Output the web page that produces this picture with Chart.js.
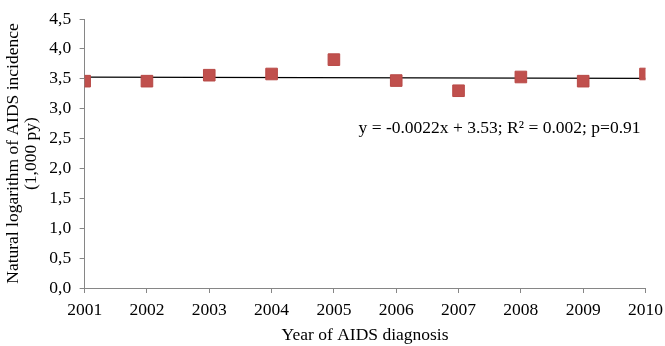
<!DOCTYPE html>
<html>
<head>
<meta charset="utf-8">
<script src="https://cdn.jsdelivr.net/npm/chart.js@4"></script>
<style>
  html, body { margin: 0; padding: 0; background: #fff; }
  #wrap { width: 665px; height: 346px; }
</style>
</head>
<body>
<div id="wrap"><canvas id="chart"></canvas></div>
<script>
"use strict";

var years = [2001, 2002, 2003, 2004, 2005, 2006, 2007, 2008, 2009, 2010];
var logIncidence = [3.46, 3.46, 3.56, 3.58, 3.82, 3.47, 3.3, 3.53, 3.46, 3.58];
var yTicks = [0, 0.5, 1, 1.5, 2, 2.5, 3, 3.5, 4, 4.5];

// regression from the figure: y = -0.0022x + 3.53 (x = 1..10)
var trendSlope = -0.0022;
var trendIntercept = 3.53;
var trendLabel = "y = -0.0022x + 3.53; R\u00b2 = 0.002; p=0.91";

var FONT = "'Liberation Serif', 'Times New Roman', serif";
var FONT_SIZE = 17.5;
var AXIS_COLOR = "#868686";

var trendPoints = [years[0], years[years.length - 1]].map(function (yr) {
  return { x: yr, y: trendIntercept + trendSlope * (yr - years[0] + 1) };
});

var annotation = {
  id: "annotation",
  afterDatasetsDraw: function (chart) {
    var ctx = chart.ctx;
    var xs = chart.scales.x;
    var ys = chart.scales.y;
    ctx.save();
    ctx.font = FONT_SIZE + "px " + FONT;
    ctx.fillStyle = "#000";
    ctx.textAlign = "right";
    ctx.textBaseline = "middle";
    ctx.fillText(trendLabel, xs.getPixelForValue(2010) - 5, ys.getPixelForValue(2.67));
    ctx.restore();
  },
};

new Chart(document.getElementById("chart"), {
  type: "scatter",
  data: {
    datasets: [
      {
        type: "line",
        data: trendPoints,
        borderColor: "#000",
        borderWidth: 1.2,
        pointRadius: 0,
        fill: false,
        order: 2,
      },
      {
        data: years.map(function (yr, i) {
          return { x: yr, y: logIncidence[i] };
        }),
        pointStyle: "rect",
        pointRadius: 8.2,
        backgroundColor: "#c0504d",
        borderColor: "#b84946",
        borderWidth: 1,
        order: 1,
      },
    ],
  },
  options: {
    responsive: true,
    maintainAspectRatio: false,
    animation: false,
    layout: { padding: { top: -3, right: 0, left: 0, bottom: 0 } },
    plugins: {
      legend: { display: false },
      tooltip: { enabled: false },
    },
    scales: {
      x: {
        type: "linear",
        min: 2001,
        max: 2010,
        border: { color: AXIS_COLOR },
        grid: { drawOnChartArea: false, color: AXIS_COLOR, tickLength: 5 },
        ticks: {
          stepSize: 1,
          color: "#000",
          padding: 2,
          // tall line box pushes the labels down without widening the axis
          font: { family: FONT, size: FONT_SIZE, lineHeight: 1.714 },
          maxRotation: 0,
          callback: function (v) {
            return String(v);
          },
        },
        title: {
          display: true,
          text: "Year of AIDS diagnosis",
          color: "#000",
          font: { family: FONT, size: FONT_SIZE, lineHeight: 1.0 },
          padding: { top: -0.5, bottom: 2 },
        },
      },
      y: {
        min: 0,
        max: 4.5,
        afterBuildTicks: function (axis) {
          axis.ticks = yTicks.map(function (v) {
            return { value: v };
          });
        },
        border: { color: AXIS_COLOR },
        grid: { drawOnChartArea: false, color: AXIS_COLOR, tickLength: 5 },
        ticks: {
          color: "#000",
          padding: 8.5,
          font: { family: FONT, size: FONT_SIZE },
          callback: function (v) {
            return v.toFixed(1).replace(".", ",");
          },
        },
        title: {
          display: true,
          text: ["Natural logarithm of AIDS incidence", "(1,000 py)"],
          color: "#000",
          font: { family: FONT, size: FONT_SIZE, lineHeight: 1.05 },
          padding: { top: 4, bottom: 0 },
        },
      },
    },
  },
  plugins: [annotation],
});
</script>
</body>
</html>
